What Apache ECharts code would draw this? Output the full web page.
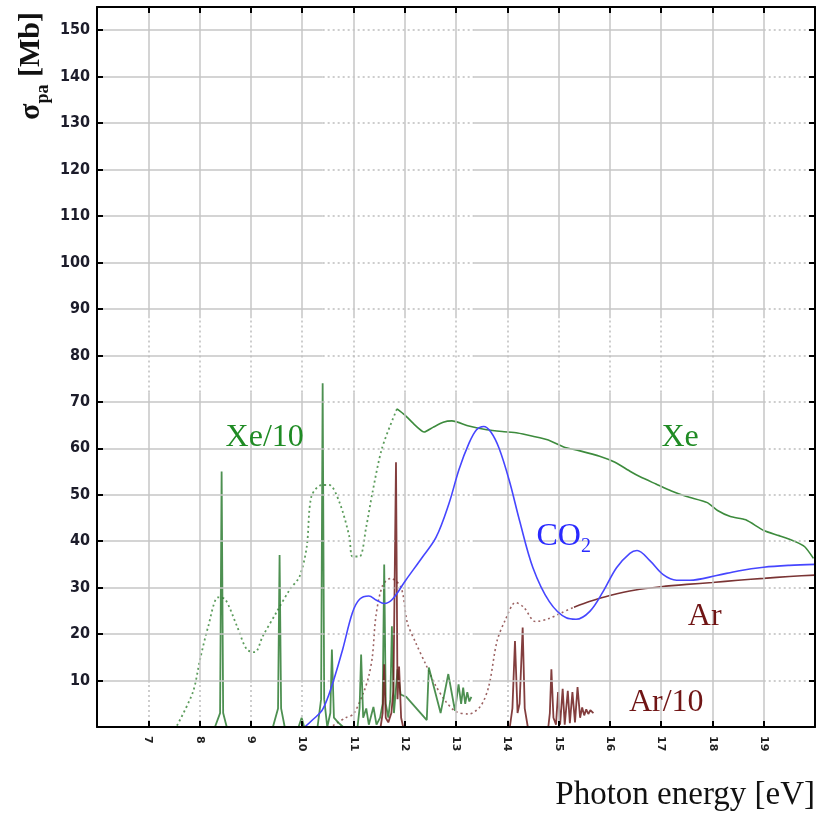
<!DOCTYPE html>
<html><head><meta charset="utf-8">
<script src="https://cdn.jsdelivr.net/npm/echarts@6/dist/echarts.min.js"></script>
<style>html,body{margin:0;padding:0;background:#fff}#c{width:817px;height:813px}</style>
</head><body><div id="c"></div>
<script>
// ---------- data ----------
const X_TICKS = [7, 8, 9, 10, 11, 12, 13, 14, 15, 16, 17, 18, 19];
const Y_TICKS = [10, 20, 30, 40, 50, 60, 70, 80, 90, 100, 110, 120, 130, 140, 150];

// Xe envelope (dotted, below threshold)
const xeEnvelope = [[7.56,0.3],[7.87,7.5],[8.01,14.6],[8.17,21.7],[8.36,27.9],[8.5,27.5],[8.73,21.7],[8.92,16.7],[9.08,16.1],[9.23,19.5],[9.5,24.7],[9.76,29.6],[9.95,32.4],[10.09,38.8],[10.18,49.6],[10.38,52.1],[10.53,52.1],[10.73,48.3],[10.92,41],[10.98,36.7],[11.12,36.7],[11.25,43.1],[11.37,50.4],[11.56,60.1],[11.85,68.5]];

// Xe (solid)
const xe = [[11.85,68.5],[12.0,67.2],[12.2,65],[12.38,63.5],[12.55,64.5],[12.75,65.6],[12.92,65.9],[13.25,64.8],[13.6,64],[13.9,63.6],[14.2,63.3],[14.5,62.6],[14.8,61.8],[15.1,60.3],[15.4,59.5],[15.8,58.3],[16.1,57],[16.4,55],[16.6,53.8],[16.9,52.3],[17.2,50.8],[17.5,49.6],[17.9,48.3],[18.1,46.6],[18.35,45.3],[18.65,44.6],[19.0,42.3],[19.3,41.2],[19.6,40],[19.8,38.8],[19.97,36.3]];

// Xe/10 line spectrum (segments)
const xe10Segments = [
  [[8.30,0],[8.40,3],[8.43,55],[8.46,3],[8.53,0]],
  [[9.43,0],[9.53,4],[9.56,37],[9.59,4],[9.66,0]],
  [[9.93,0],[9.99,2],[10.04,0]],
  [[10.30,0],[10.37,6],[10.40,74],[10.43,6],[10.49,0],[10.55,3],[10.58,16.7],[10.62,2],[10.7,1],[10.8,0]],
  [[11.08,0],[11.12,4],[11.15,15.6],[11.19,2],[11.25,4],[11.3,0.5],[11.39,4.3],[11.45,0.5],[11.52,2],[11.57,5],[11.6,35],[11.63,5],[11.68,2],[11.72,6],[11.75,21.7],[11.79,3],[11.86,12.4],[11.92,7],[12.03,6.5],[12.43,1.5],[12.47,12.8],[12.7,3],[12.85,11.4],[12.98,3.5],[13.05,9.2],[13.1,5],[13.14,8.5],[13.18,5],[13.22,7.5],[13.26,5.5],[13.3,6.5]]
];

// CO2
const co2 = [[10.05,0],[10.2,1.5],[10.4,3.8],[10.6,9.6],[10.79,16.7],[10.98,24.6],[11.12,27.5],[11.3,28.2],[11.45,27.3],[11.6,26.6],[11.76,27.5],[12.02,31.6],[12.34,36.5],[12.61,40.8],[12.86,48],[13.06,55.5],[13.25,61],[13.4,64],[13.54,64.7],[13.68,63.5],[13.84,60],[14.04,53],[14.24,44.4],[14.5,34.3],[14.82,27],[15.15,23.5],[15.34,23.2],[15.61,24.9],[15.87,29.2],[16.13,34.3],[16.39,37.4],[16.53,38],[16.78,35.8],[17.04,32.8],[17.3,31.6],[17.56,31.6],[18.08,32.6],[18.5,33.6],[19.0,34.4],[19.5,34.8],[20,35]];

// Ar envelope (dotted)
const arEnvelope = [[10.6,0.3],[10.85,2],[11.0,2.8],[11.2,7.5],[11.3,11],[11.37,15.2],[11.44,24],[11.57,30.5],[11.73,32],[11.93,30],[12.05,22.5],[12.22,18],[12.41,13.5],[12.6,9],[12.8,5.5],[13.0,3.3],[13.25,2.8],[13.48,4.5],[13.64,8.8],[13.8,18.5],[13.96,23],[14.16,26.8],[14.32,25.8],[14.55,22.7],[14.8,23.3],[15.06,24.6],[15.3,25.8]];

// Ar (solid)
const ar = [[15.3,25.8],[15.6,27],[16.0,28.3],[16.5,29.5],[17.0,30.2],[17.5,30.7],[18.0,31.1],[18.5,31.6],[19.0,32],[19.5,32.4],[20,32.7]];

// Ar/10 line spectrum (segments)
const ar10Segments = [
  [[11.53,0],[11.57,3],[11.6,13.5],[11.63,2],[11.68,1],[11.74,3],[11.78,8],[11.83,57],[11.86,6],[11.89,13],[11.93,2],[11.97,0]],
  [[14.05,0],[14.1,4],[14.15,18.5],[14.2,3],[14.24,5],[14.3,21.4],[14.34,4],[14.4,0]],
  [[14.8,0],[14.83,3],[14.86,12.4],[14.9,2],[14.95,0.5],[14.99,7.5],[15.03,0.5],[15.08,8.2],[15.12,0.5],[15.18,7.8],[15.22,0.8],[15.27,7.5],[15.32,1],[15.37,8.6],[15.42,2],[15.46,4.2],[15.5,2.5],[15.54,3.8],[15.58,2.8],[15.62,3.6],[15.68,3]]
];

// ---------- helpers ----------
function joinSegments(segs) {
  const out = [];
  segs.forEach((s, i) => {
    if (i > 0) out.push([s[0][0], '-']);
    s.forEach(p => out.push(p));
  });
  return out;
}

const X_MIN = 6, X_MAX = 20, Y_MIN = 0, Y_MAX = 155;
const GRID_COLOR = '#c6c6c6';
const solidStyle = {type: 'solid', width: 1.5, color: GRID_COLOR};
const dotStyle = {type: [2, 3], width: 1.5, color: '#bdbdbd'};

function seg(x1, y1, x2, y2, style) {
  return [{coord: [x1, y1], lineStyle: style}, {coord: [x2, y2]}];
}
const gridLines = [];
Y_TICKS.forEach(y => {
  gridLines.push(seg(X_MIN, y, 10.4, y, solidStyle));
  gridLines.push(seg(10.4, y, 13.35, y, dotStyle));
  gridLines.push(seg(13.35, y, 19, y, solidStyle));
  gridLines.push(seg(19, y, X_MAX, y, dotStyle));
});
const BOTTOM_DOTTED = [7, 8, 9, 10, 14];
X_TICKS.forEach(x => {
  if (BOTTOM_DOTTED.indexOf(x) >= 0) {
    gridLines.push(seg(x, Y_MIN, x, 9.5, dotStyle));
    gridLines.push(seg(x, 9.5, x, 72, solidStyle));
  } else {
    gridLines.push(seg(x, Y_MIN, x, 72, solidStyle));
  }
  gridLines.push(seg(x, 72, x, 88, dotStyle));
  gridLines.push(seg(x, 88, x, Y_MAX, solidStyle));
});

function textMark(text, coord, color, rich) {
  return {
    symbol: 'circle', symbolSize: 1, itemStyle: {color: 'rgba(0,0,0,0)'},
    animation: false, silent: true,
    data: [{coord: coord, value: text}],
    label: {
      show: true, position: 'inside', formatter: text,
      fontFamily: 'Liberation Serif', fontSize: 32, color: color,
      rich: rich || {}
    }
  };
}

const chart = echarts.init(document.getElementById('c'), null, {renderer: 'canvas'});
const frameAxis = {lineStyle: {color: '#000', width: 2}};
const option = {
  animation: false,
  backgroundColor: '#fff',
  grid: {left: 97, right: 2, top: 7, bottom: 86, containLabel: false},
  xAxis: [
    {type: 'value', min: X_MIN, max: X_MAX, interval: 1, position: 'bottom', z: 10,
     axisLine: Object.assign({onZero: false, show: true}, frameAxis),
     axisTick: {show: true, inside: true, length: 6, lineStyle: {color: '#000', width: 2}},
     splitLine: {show: false},
     axisLabel: {show: true, rotate: -90, margin: 9, fontSize: 11, fontWeight: 'bold',
       fontFamily: 'DejaVu Sans', color: '#222',
       formatter: v => (v >= 7 && v <= 19) ? String(v) : ''}},
    {type: 'value', min: X_MIN, max: X_MAX, interval: 1, position: 'top', z: 10,
     axisLine: Object.assign({onZero: false, show: true}, frameAxis),
     axisTick: {show: true, inside: true, length: 6, lineStyle: {color: '#000', width: 2}},
     splitLine: {show: false}, axisLabel: {show: false}}
  ],
  yAxis: [
    {type: 'value', min: Y_MIN, max: Y_MAX, interval: 10, position: 'left', z: 10,
     axisLine: Object.assign({onZero: false, show: true}, frameAxis),
     axisTick: {show: true, inside: true, length: 6, lineStyle: {color: '#000', width: 2}},
     splitLine: {show: false},
     axisLabel: {show: true, margin: 7, fontSize: 16, fontWeight: 'bold',
       fontFamily: 'DejaVu Sans Condensed, DejaVu Sans', color: '#1c1c2a',
       formatter: v => (v > 0 && v <= 150 && v % 10 === 0) ? String(v) : ''}},
    {type: 'value', min: Y_MIN, max: Y_MAX, interval: 10, position: 'right', z: 10,
     axisLine: Object.assign({onZero: false, show: true}, frameAxis),
     axisTick: {show: true, inside: true, length: 6, lineStyle: {color: '#000', width: 2}},
     splitLine: {show: false}, axisLabel: {show: false}}
  ],
  graphic: [
    {type: 'text', x: 31, y: 66, rotation: Math.PI / 2, silent: true,
     style: {text: '{g|σ}{s|pa}{g| [Mb]}', align: 'center', verticalAlign: 'middle',
       rich: {
         g: {fontFamily: 'Liberation Serif', fontWeight: 'bold', fontSize: 30, lineHeight: 42, fill: '#111', verticalAlign: 'middle'},
         s: {fontFamily: 'Liberation Serif', fontWeight: 'bold', fontSize: 18, lineHeight: 18, fill: '#111', verticalAlign: 'bottom'}
       }}},
    {type: 'text', x: 815, y: 795, silent: true,
     style: {text: 'Photon energy [eV]', align: 'right', verticalAlign: 'middle',
       fontFamily: 'Liberation Serif', fontSize: 33, fill: '#111'}}
  ],
  series: [
    {name: 'grid', type: 'line', z: 1, silent: true, data: [[X_MIN, Y_MIN]], symbol: 'none',
     lineStyle: {opacity: 0},
     markLine: {silent: true, symbol: ['none', 'none'], animation: false,
       label: {show: false}, emphasis: {disabled: true}, data: gridLines}},
    {name: 'Xe envelope', type: 'line', z: 3, data: xeEnvelope, symbol: 'none', smooth: 0.3,
     lineStyle: {color: '#5c9c5c', width: 1.8, type: [2, 3]}},
    {name: 'Xe', type: 'line', z: 3, data: xe, symbol: 'none', smooth: 0.2,
     lineStyle: {color: '#3d8b3d', width: 1.6},
     markPoint: textMark('Xe', [17.37, 62.4], '#1f8b24')},
    {name: 'Xe/10', type: 'line', z: 4, data: joinSegments(xe10Segments), symbol: 'none',
     connectNulls: false,
     lineStyle: {color: '#2e7d32', width: 1.8, opacity: 0.85},
     markPoint: textMark('Xe/10', [9.27, 62.4], '#1f8b24')},
    {name: 'Ar envelope', type: 'line', z: 3, data: arEnvelope, symbol: 'none', smooth: 0.3,
     lineStyle: {color: '#9c6363', width: 1.6, type: [2, 3]}},
    {name: 'Ar', type: 'line', z: 3, data: ar, symbol: 'none', smooth: 0.2,
     lineStyle: {color: '#7a3434', width: 1.6},
     markPoint: textMark('Ar', [17.85, 23.8], '#701515')},
    {name: 'Ar/10', type: 'line', z: 4, data: joinSegments(ar10Segments), symbol: 'none',
     connectNulls: false,
     lineStyle: {color: '#6d1c1c', width: 1.8, opacity: 0.85},
     markPoint: textMark('Ar/10', [17.1, 5.2], '#701515')},
    {name: 'CO2', type: 'line', z: 5, data: co2, symbol: 'none', smooth: 0.35,
     lineStyle: {color: '#4646ff', width: 1.6},
     markPoint: textMark('{a|CO}{b|2}', [15.1, 41.0], '#2a2aff', {
       a: {fontFamily: 'Liberation Serif', fontSize: 32, lineHeight: 40, color: '#2a2aff', verticalAlign: 'middle'},
       b: {fontFamily: 'Liberation Serif', fontSize: 20, lineHeight: 20, color: '#2a2aff', verticalAlign: 'bottom'}
     })}
  ]
};
chart.setOption(option);
</script>
</body></html>
